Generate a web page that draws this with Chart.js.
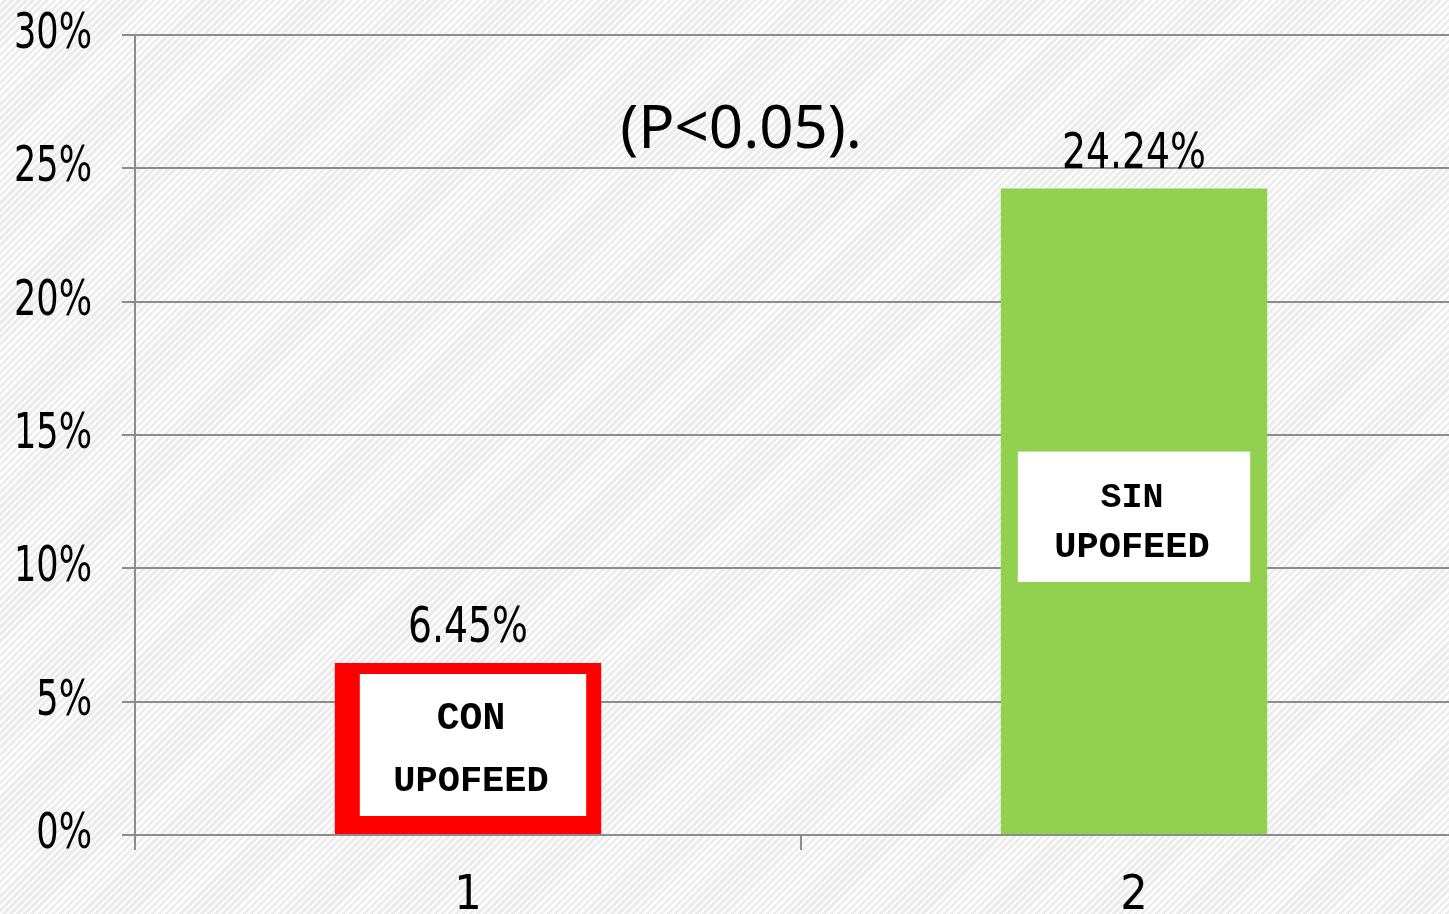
<!DOCTYPE html>
<html>
<head>
<meta charset="utf-8">
<script src="https://cdn.jsdelivr.net/npm/chart.js@4"></script>
<style>
  html, body { margin: 0; padding: 0; overflow: hidden; width: 1449px; height: 914px; }
  body {
    background: repeating-linear-gradient(135deg, #fbfbfb 0px, #fbfbfb 2.5px, #ebebeb 2.5px, #ebebeb 5px);
  }
  canvas { display: block; }
</style>
</head>
<body>
<canvas id="chartCanvas" width="1468" height="914"></canvas>
<script>
// data
const categories = ["1", "2"];
const values = [6.45, 24.24];
const valueLabels = ["6.45%", "24.24%"];
const boxLines = [["CON", "UPOFEED"], ["SIN", "UPOFEED"]];
const barColors = ["#ff0000", "#92d050"];
const yTicks = [0, 5, 10, 15, 20, 25, 30];
const note = "(P<0.05).";

// white boxes inside the bars: insets [left, top, right, bottom] and line offsets
const boxStyle = [
  { inset: [25, 11, 15, 18], lines: [-26, 37], size: [38, 37] },
  { inset: [17, 263, 17, 252], lines: [-19, 31], size: [35, 37] }
];

const tickFont = "'DejaVu Sans Condensed', 'DejaVu Sans', sans-serif";

// draws narrow text (the original font is tall and narrow)
function narrowText(ctx, text, x, y, sx) {
  ctx.save();
  ctx.translate(x, y);
  ctx.scale(sx, 1);
  ctx.fillText(text, 0, 0);
  ctx.restore();
}

const labelPlugin = {
  id: 'labels',
  afterDatasetsDraw(chart) {
    const ctx = chart.ctx;
    const meta = chart.getDatasetMeta(0);
    ctx.save();
    ctx.fillStyle = '#000';

    // y tick labels from the y scale
    const ys = chart.scales.y;
    ctx.font = "50px " + tickFont;
    ctx.textAlign = 'right';
    ctx.textBaseline = 'middle';
    ys.ticks.forEach(t => {
      narrowText(ctx, t.value + '%', 92, ys.getPixelForValue(t.value), 0.78);
    });

    meta.data.forEach((bar, i) => {
      const left = bar.x - bar.width / 2;
      const right = bar.x + bar.width / 2;
      const st = boxStyle[i];
      const bx = left + st.inset[0];
      const by = bar.y + st.inset[1];
      const bw = (right - st.inset[2]) - bx;
      const bh = (bar.base - st.inset[3]) - by;
      ctx.fillStyle = '#ffffff';
      ctx.fillRect(bx, by, bw, bh);

      ctx.fillStyle = '#000';
      ctx.textAlign = 'center';
      ctx.textBaseline = 'middle';
      const cy = by + bh / 2;
      const cx = bx + bw / 2;
      boxLines[i].forEach((t, k) => {
        ctx.font = "bold " + st.size[k] + "px 'Liberation Mono', 'DejaVu Sans Mono', monospace";
        ctx.fillText(t, cx - 2, cy + st.lines[k]);
      });

      ctx.font = "50px " + tickFont;
      ctx.textBaseline = 'alphabetic';
      narrowText(ctx, valueLabels[i], bar.x, bar.y - 21, 0.84);
    });

    const area = chart.chartArea;
    ctx.font = "60px 'Noto Sans', 'Open Sans', sans-serif";
    ctx.textAlign = 'center';
    ctx.textBaseline = 'alphabetic';
    ctx.fillText(note, area.left + 0.455 * (area.right - area.left), area.top + 113);
    ctx.restore();
  }
};

new Chart(document.getElementById('chartCanvas').getContext('2d'), {
  type: 'bar',
  data: {
    labels: categories,
    datasets: [{
      data: values,
      backgroundColor: barColors,
      barPercentage: 1,
      categoryPercentage: 0.4
    }]
  },
  options: {
    responsive: false,
    animation: false,
    layout: { padding: { top: 35, right: 1, left: 0, bottom: 0 } },
    plugins: { legend: { display: false }, tooltip: { enabled: false } },
    scales: {
      y: {
        min: 0,
        max: 30,
        afterFit: (s) => { s.width = 135; },
        afterBuildTicks: (s) => { s.ticks = yTicks.map(v => ({ value: v })); },
        ticks: { display: false },
        grid: { color: '#8c8c8c', lineWidth: 2, tickLength: 13 },
        border: { color: '#8c8c8c', width: 2 }
      },
      x: {
        afterFit: (s) => { s.height = 79; },
        ticks: {
          color: '#000',
          padding: 18,
          font: { size: 48, family: tickFont }
        },
        grid: { drawOnChartArea: false, color: '#8c8c8c', lineWidth: 2, tickLength: 15 },
        border: { color: '#8c8c8c', width: 2 }
      }
    }
  },
  plugins: [labelPlugin]
});
</script>
</body>
</html>
